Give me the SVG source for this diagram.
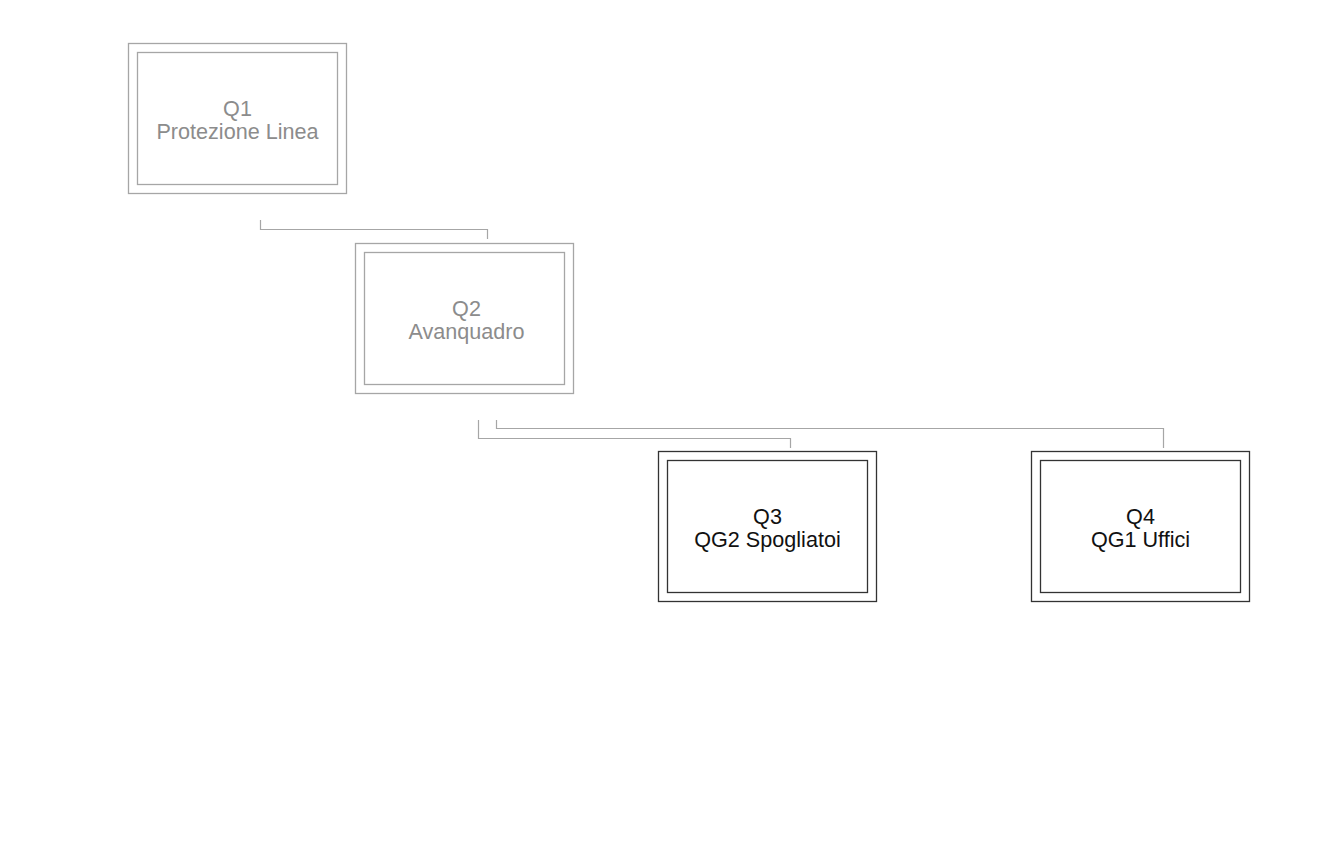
<svg xmlns="http://www.w3.org/2000/svg" width="1334" height="867" viewBox="0 0 1334 867">
<style>
.box{fill:none;stroke-width:1.3}
.dim .box{stroke:#a6a6a6}
.dim text{fill:#8c8c8c}
.act .box{stroke:#333333}
.act text{fill:#111111}
text{font-family:"Liberation Sans",Arial,sans-serif;font-size:21.6px;text-anchor:middle}
.conn path{fill:none;stroke:#a6a6a6;stroke-width:1.2}
</style>
<rect width="1334" height="867" fill="#ffffff"/>
<g id="connectors" class="conn">
<path d="M260.5 220V229.5H487.5V239"/>
<path d="M478.5 420V438.5H790.5V448"/>
<path d="M496.5 420V428.5H1163.5V448"/>
</g>
<g id="Q1" class="dim">
<rect class="box" x="128.5" y="43.5" width="218" height="150"/>
<rect class="box" x="137.5" y="52.5" width="200" height="132"/>
<text x="237.5" y="116">Q1</text>
<text x="237.5" y="138.5">Protezione Linea</text>
</g>
<g id="Q2" class="dim">
<rect class="box" x="355.5" y="243.5" width="218" height="150"/>
<rect class="box" x="364.5" y="252.5" width="200" height="132"/>
<text x="466.5" y="316">Q2</text>
<text x="466.5" y="338.5">Avanquadro</text>
</g>
<g id="Q3" class="act">
<rect class="box" x="658.5" y="451.5" width="218" height="150"/>
<rect class="box" x="667.5" y="460.5" width="200" height="132"/>
<text x="767.5" y="524">Q3</text>
<text x="767.5" y="546.5">QG2 Spogliatoi</text>
</g>
<g id="Q4" class="act">
<rect class="box" x="1031.5" y="451.5" width="218" height="150"/>
<rect class="box" x="1040.5" y="460.5" width="200" height="132"/>
<text x="1140.5" y="524">Q4</text>
<text x="1140.5" y="546.5">QG1 Uffici</text>
</g>
</svg>
